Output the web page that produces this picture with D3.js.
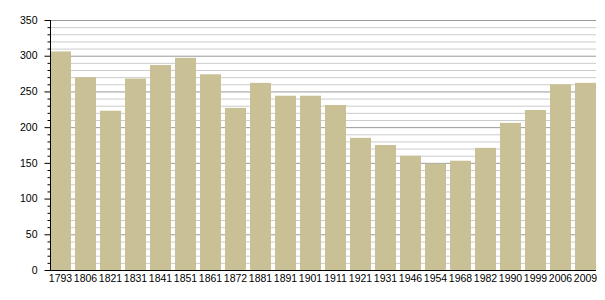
<!DOCTYPE html>
<html><head><meta charset="utf-8">
<script src="https://cdn.jsdelivr.net/npm/d3@7"></script>
<style>body{margin:0;background:#fff}svg{display:block}text{font-family:"Liberation Sans",Arial,sans-serif}</style>
</head><body><svg id="c" width="605" height="300"></svg>
<script>
const years = ["1793","1806","1821","1831","1841","1851","1861","1872","1881","1891","1901","1911","1921","1931","1946","1954","1968","1982","1990","1999","2006","2009"];
const population = [306,270,223,268,287,297,274,227,262,244,244,231,185,175,160,149,153,171,206,224,260,262];
const yTicks = [0,50,100,150,200,250,300,350];

(function(){
const svg = d3.select("#c");
const mLeft = 50, mRight = 596, mTop = 20, mBottom = 270;
const x = d3.scaleBand().domain(years).range([mLeft, mRight]).paddingInner(4/25).paddingOuter(0);
const y = d3.scaleLinear().domain([0,350]).range([mBottom, mTop]);

const minor = d3.range(0, 351, 10);
svg.append("g").selectAll("line").data(minor).join("line")
  .attr("x1", mLeft).attr("x2", mRight)
  .attr("y1", d => y(d)+0.5).attr("y2", d => y(d)+0.5)
  .attr("stroke", d => d % 50 === 0 ? "#999" : "#ccc").attr("stroke-width", 1);

svg.append("g").selectAll("rect").data(years).join("rect")
  .attr("x", d => x(d)).attr("width", x.bandwidth())
  .attr("y", (d,i) => y(population[i])).attr("height", (d,i) => y(0) - y(population[i]))
  .attr("fill", "#c9c096");

const ya = svg.append("g").attr("transform", `translate(${mLeft+0.5},0)`);
ya.append("line").attr("y1", mTop).attr("y2", mBottom+0.5).attr("stroke", "#000");
ya.selectAll(".mt").data(minor).join("line")
  .attr("x1", d => d % 50 === 0 ? -6 : -3).attr("x2", 0)
  .attr("y1", d => y(d)+0.5).attr("y2", d => y(d)+0.5).attr("stroke", "#000");
ya.selectAll("text").data(yTicks).join("text")
  .attr("x", -13).attr("y", d => y(d)).attr("dy", "0.35em")
  .attr("text-anchor", "end").attr("font-size", 10.5).attr("fill", "#000").text(d => d);

svg.append("line").attr("x1", mLeft).attr("x2", mRight).attr("y1", mBottom+0.5).attr("y2", mBottom+0.5).attr("stroke", "#000");
svg.append("g").selectAll("text").data(years).join("text")
  .attr("x", d => x(d) + x.bandwidth()/2).attr("y", 282)
  .attr("text-anchor", "middle").attr("font-size", 10.5).attr("fill", "#000").text(d => d);
})();
</script></body></html>
